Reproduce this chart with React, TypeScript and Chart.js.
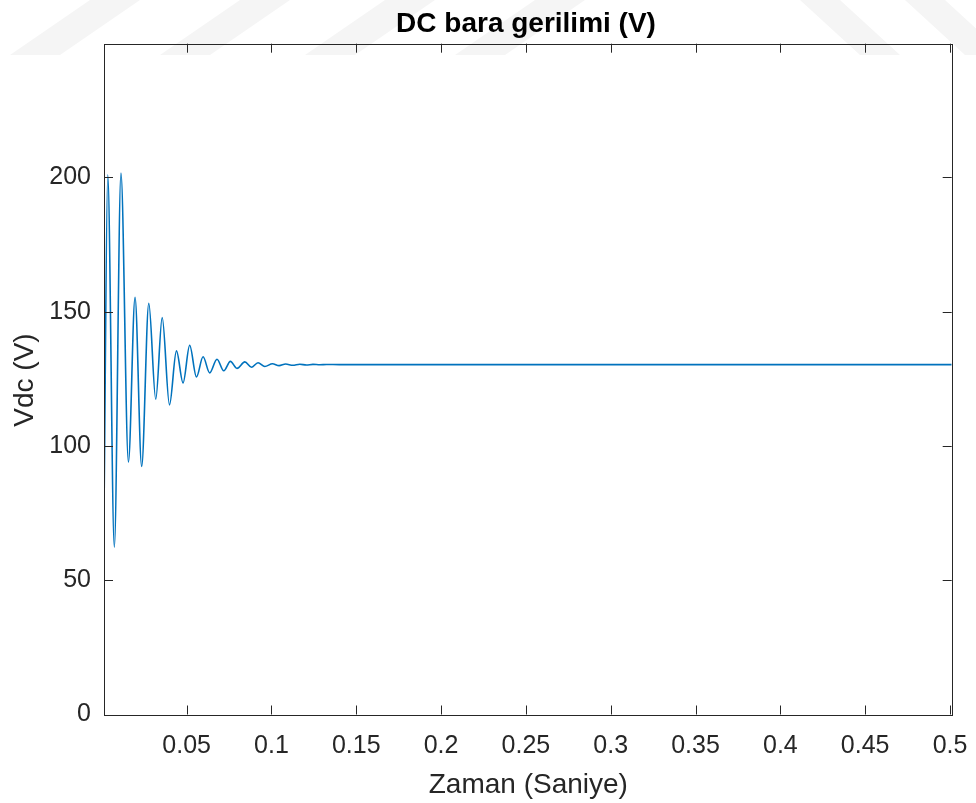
import React, { useEffect, useRef } from "react";
import { Chart, registerables } from "chart.js";

Chart.register(...registerables);

// Time (s) of the extrema
const times = [
  0.0013, 0.0035, 0.0074, 0.0113, 0.0157, 0.0196, 0.0235, 0.0277, 0.0318, 0.0356,
  0.0399, 0.044, 0.0479, 0.0518, 0.0558, 0.0597, 0.0636, 0.0679, 0.0719, 0.0758,
  0.0797, 0.0843, 0.0882, 0.0921, 0.0961, 0.1006, 0.1045, 0.1084, 0.1126, 0.1167,
  0.1206, 0.1245, 0.1285, 0.1325, 0.14, 0.501,
];
// DC bus voltage (V) at those times
const volts = [
  75, 201, 62.3, 201.6, 94, 155.4, 92.4, 153.1, 117.4, 147.8,
  115.3, 135.4, 123.5, 137.5, 125.7, 133.2, 127.2, 132.3, 128, 131.5,
  128.9, 131.3, 129.3, 131, 129.6, 130.6, 129.9, 130.5, 130.05, 130.45,
  130.15, 130.4, 130.25, 130.35, 130.3, 130.3,
];
const xTicks = [0.05, 0.1, 0.15, 0.2, 0.25, 0.3, 0.35, 0.4, 0.45, 0.5];
const yTicks = [0, 50, 100, 150, 200];

const titleText = "DC bara gerilimi (V)";
const xLabel = "Zaman (Saniye)";
const yLabel = "Vdc (V)";

const FONT = "'Liberation Sans', Arial, Helvetica, sans-serif";
const AX = "#262626";

export default function App() {
  const ref = useRef<HTMLCanvasElement | null>(null);

  useEffect(() => {
    document.body.style.margin = "0";
    const canvas = ref.current!;
    const watermark = {
      id: "watermark",
      beforeDraw(chart: any) {
        const ctx = chart.ctx;
        ctx.save();
        ctx.fillStyle = "#f5f5f5";
        const slashes = [10, 160, 305, 455];
        slashes.forEach((x0) => {
          ctx.beginPath();
          ctx.moveTo(x0, 55);
          ctx.lineTo(x0 + 50, 55);
          ctx.lineTo(x0 + 130, 0);
          ctx.lineTo(x0 + 80, 0);
          ctx.closePath();
          ctx.fill();
        });
        const backs = [800, 905];
        backs.forEach((x0) => {
          ctx.beginPath();
          ctx.moveTo(x0, 0);
          ctx.lineTo(x0 + 40, 0);
          ctx.lineTo(x0 + 100, 55);
          ctx.lineTo(x0 + 60, 55);
          ctx.closePath();
          ctx.fill();
        });
        ctx.restore();
      },
    };
    const frame = {
      id: "frame",
      afterDatasetsDraw(chart: any) {
        const ctx = chart.ctx;
        const a = chart.chartArea;
        const xs = chart.scales.x;
        const ys = chart.scales.y;
        const L = 9;
        ctx.save();
        ctx.strokeStyle = AX;
        ctx.lineWidth = 1;
        ctx.beginPath();
        xTicks.forEach((v) => {
          const px = Math.round(xs.getPixelForValue(v)) + 0.5;
          ctx.moveTo(px, a.bottom);
          ctx.lineTo(px, a.bottom - L);
          ctx.moveTo(px, a.top);
          ctx.lineTo(px, a.top + L);
        });
        yTicks.forEach((v) => {
          const py = Math.round(ys.getPixelForValue(v)) + 0.5;
          ctx.moveTo(a.left, py);
          ctx.lineTo(a.left + L, py);
          ctx.moveTo(a.right, py);
          ctx.lineTo(a.right - L, py);
        });
        ctx.stroke();
        ctx.strokeRect(Math.round(a.left) + 0.5, Math.round(a.top) + 0.5, Math.round(a.right - a.left), Math.round(a.bottom - a.top));
        // title
        ctx.fillStyle = "#000";
        ctx.font = `bold 28px ${FONT}`;
        ctx.textAlign = "center";
        ctx.textBaseline = "alphabetic";
        ctx.fillText(titleText, 526, 31.7);
        // axis labels
        ctx.fillStyle = AX;
        ctx.font = `28px ${FONT}`;
        ctx.fillText(xLabel, 528.3, 793.3);
        ctx.translate(33.3, 380);
        ctx.rotate(-Math.PI / 2);
        ctx.fillText(yLabel, 0, 0);
        ctx.restore();
      },
    };

    const chart = new Chart(canvas, {
      type: "line",
      data: {
        datasets: [
          {
            data: times.map((t, i) => ({ x: t, y: volts[i] })),
            borderColor: "#0072BD",
            borderWidth: 1.6,
            pointRadius: 0,
            fill: false,
            cubicInterpolationMode: "monotone",
          },
        ],
      },
      options: {
        animation: false,
        responsive: false,
        devicePixelRatio: 1,
        layout: { padding: { left: 0, top: 43.7, right: 24.3, bottom: 0 } },
        plugins: { legend: { display: false }, title: { display: false }, tooltip: { enabled: false } },
        scales: {
          x: {
            type: "linear",
            min: 0.0013,
            max: 0.501,
            grid: { display: false, drawTicks: false },
            border: { display: false },
            afterBuildTicks: (s: any) => {
              s.ticks = xTicks.map((v) => ({ value: v }));
            },
            afterFit: (s: any) => {
              s.height = 803 - 714.5;
              s.paddingLeft = 0;
              s.paddingRight = 0;
            },
            ticks: {
              autoSkip: false,
              maxRotation: 0,
              padding: 17,
              color: AX,
              font: { family: FONT, size: 25 },
              callback: (v: any) => String(Number(Number(v).toFixed(2))),
            },
          },
          y: {
            min: 0,
            max: 249.8,
            grid: { display: false, drawTicks: false },
            border: { display: false },
            afterBuildTicks: (s: any) => {
              s.ticks = yTicks.map((v) => ({ value: v }));
            },
            afterFit: (s: any) => {
              s.width = 104;
              s.paddingTop = 0;
              s.paddingBottom = 0;
            },
            ticks: {
              padding: 13,
              color: AX,
              font: { family: FONT, size: 25 },
              callback: (v: any) => String(v),
            },
          },
        },
      },
      plugins: [watermark, frame],
    });
    return () => chart.destroy();
  }, []);

  return (
    <div style={{ width: 976, height: 803, background: "#fff" }}>
      <canvas ref={ref} width={976} height={803} />
    </div>
  );
}
